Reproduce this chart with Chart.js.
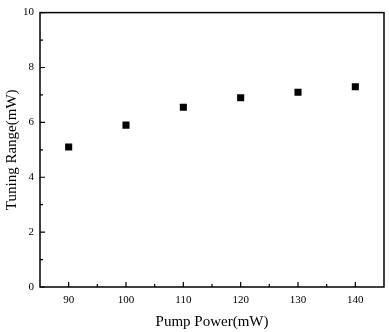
<!DOCTYPE html>
<html lang="en">
<head>
    <meta charset="UTF-8">
    <title>Tuning Range vs Pump Power</title>
    <script src="https://cdn.jsdelivr.net/npm/chart.js"></script>
    <style>
        html, body { margin: 0; padding: 0; background: #fff; }
        #wrap { width: 389px; height: 332px; }
    </style>
</head>
<body>
    <div id="wrap"><canvas id="grafico"></canvas></div>

    <script>
        // data
        const pumpPower = [90, 100, 110, 120, 130, 140];
        const tuningRange = [5.1, 5.9, 6.55, 6.9, 7.1, 7.3];

        const xTicks = [90, 100, 110, 120, 130, 140];
        const xMinorTicks = [95, 105, 115, 125, 135];
        const yTicks = [0, 2, 4, 6, 8, 10];
        const yMinorTicks = [1, 3, 5, 7, 9];

        const serif = "'Liberation Serif', 'Times New Roman', serif";

        // frame round the plot and inward tick marks
        const frameTicks = {
            id: 'frameTicks',
            afterDraw(chart) {
                const ctx = chart.ctx;
                const a = chart.chartArea;
                const x = chart.scales.x;
                const y = chart.scales.y;
                ctx.save();
                ctx.strokeStyle = '#000';
                ctx.lineWidth = 1.5;
                ctx.strokeRect(a.left, a.top, a.right - a.left, a.bottom - a.top);
                ctx.lineWidth = 1.2;
                ctx.beginPath();
                xTicks.forEach(v => {
                    const px = x.getPixelForValue(v);
                    ctx.moveTo(px, a.bottom);
                    ctx.lineTo(px, a.bottom - 5);
                });
                xMinorTicks.forEach(v => {
                    const px = x.getPixelForValue(v);
                    ctx.moveTo(px, a.bottom);
                    ctx.lineTo(px, a.bottom - 3);
                });
                yTicks.forEach(v => {
                    const py = y.getPixelForValue(v);
                    ctx.moveTo(a.left, py);
                    ctx.lineTo(a.left + 5, py);
                });
                yMinorTicks.forEach(v => {
                    const py = y.getPixelForValue(v);
                    ctx.moveTo(a.left, py);
                    ctx.lineTo(a.left + 3, py);
                });
                ctx.stroke();
                ctx.restore();
            }
        };

        new Chart(document.getElementById('grafico'), {
            type: 'scatter',
            data: {
                datasets: [{
                    label: 'Tuning Range',
                    data: pumpPower.map((p, i) => ({ x: p, y: tuningRange[i] })),
                    pointStyle: 'rect',
                    pointRadius: 5,
                    pointHoverRadius: 5,
                    backgroundColor: '#000',
                    borderColor: '#000',
                    borderWidth: 0
                }]
            },
            options: {
                responsive: true,
                maintainAspectRatio: false,
                animation: false,
                layout: { padding: { top: 10, right: 5, left: 0, bottom: 0 } },
                plugins: {
                    legend: { display: false },
                    tooltip: { enabled: false }
                },
                scales: {
                    x: {
                        type: 'linear',
                        min: 85,
                        max: 145,
                        border: { display: false },
                        grid: { display: false, drawTicks: false },
                        afterBuildTicks: s => { s.ticks = xTicks.map(v => ({ value: v })); },
                        afterFit: s => { s.height = 45; },
                        ticks: {
                            padding: 7,
                            color: '#000',
                            font: { family: serif, size: 11 }
                        },
                        title: {
                            display: true,
                            text: 'Pump Power(mW)',
                            color: '#000',
                            font: { family: serif, size: 15 },
                            padding: { top: 0, bottom: 1 }
                        }
                    },
                    y: {
                        min: 0,
                        max: 10,
                        border: { display: false },
                        grid: { display: false, drawTicks: false },
                        afterBuildTicks: s => { s.ticks = yTicks.map(v => ({ value: v })); },
                        afterFit: s => { s.width = 40; },
                        ticks: {
                            padding: 6,
                            color: '#000',
                            font: { family: serif, size: 11 }
                        },
                        title: {
                            display: true,
                            text: 'Tuning Range(mW)',
                            color: '#000',
                            font: { family: serif, size: 15 },
                            padding: { top: 3, bottom: 0 }
                        }
                    }
                }
            },
            plugins: [frameTicks]
        });
    </script>
</body>
</html>
